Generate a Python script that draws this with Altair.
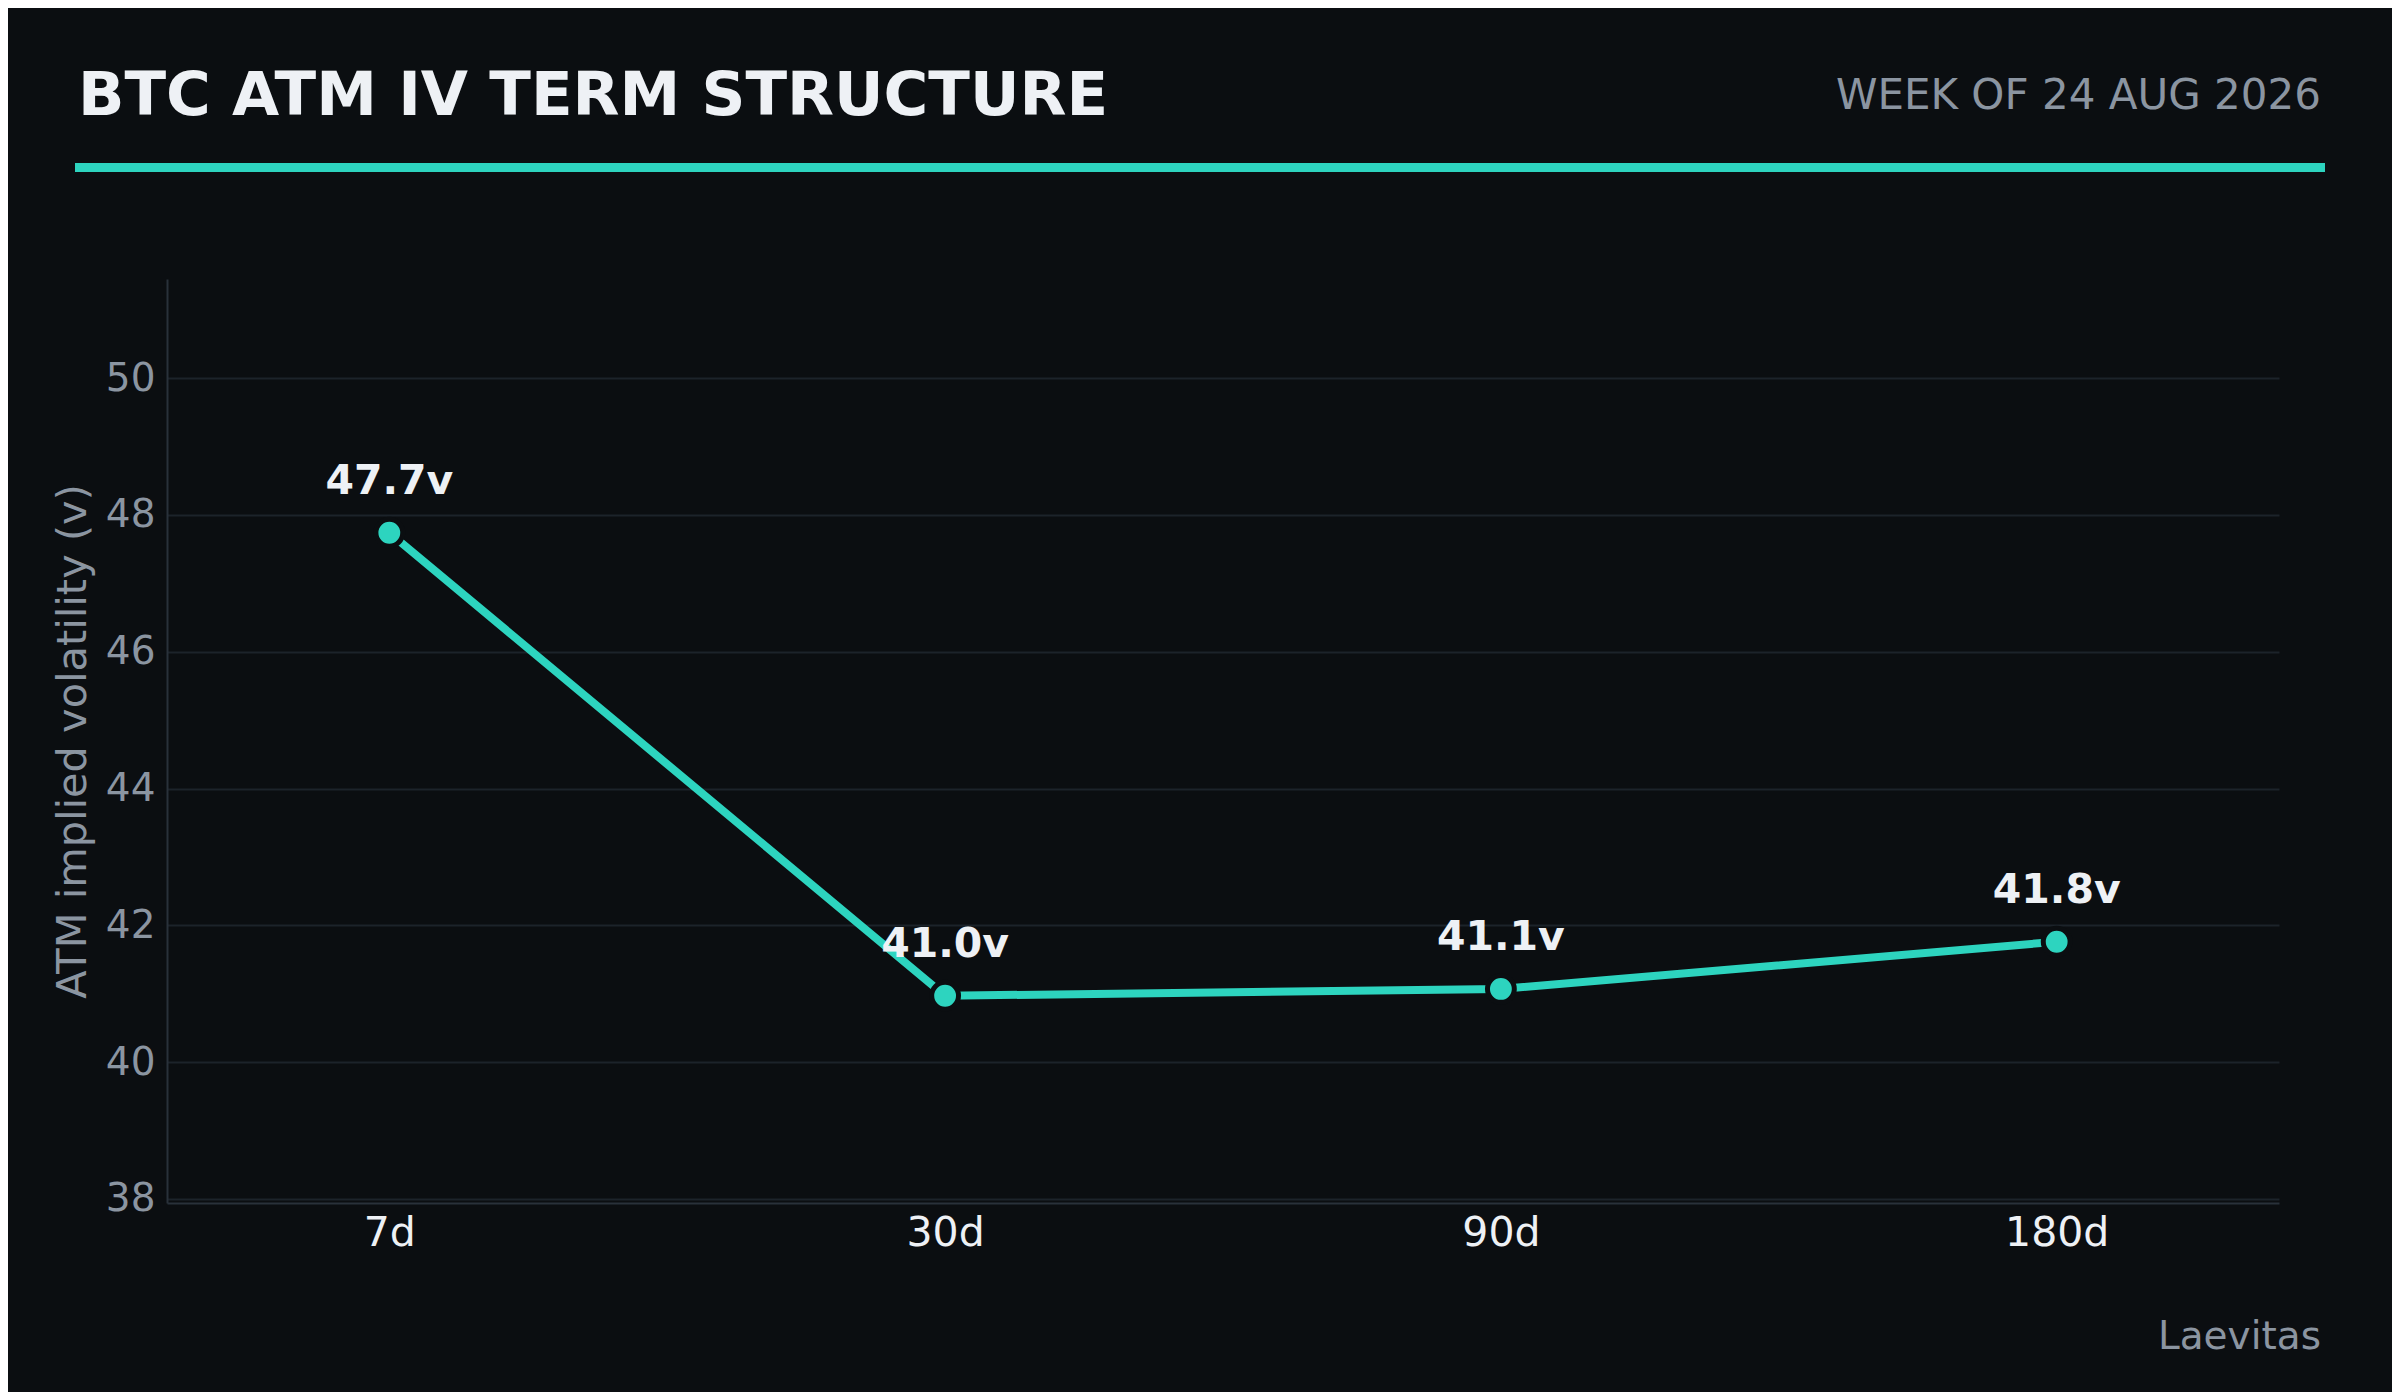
import altair as alt
import pandas as pd

# term structure values
horizons = ["7d", "30d", "90d", "180d"]
atm_iv = [47.74, 40.97, 41.07, 41.76]
y_ticks = [38, 40, 42, 44, 46, 48, 50]

title_text = "BTC ATM IV TERM STRUCTURE"
subtitle_text = "WEEK OF 24 AUG 2026"
source_text = "Laevitas"

BG = "#0b0e11"
TEAL = "#2dd4bf"
WHITE = "#eef1f5"
GRAY = "#8b95a1"
GRID = "#1c232a"
DOMAIN = "#29313a"
FONT = "DejaVu Sans"

df = pd.DataFrame({"horizon": horizons, "iv": atm_iv})
df["label"] = [f"{v:.1f}v" for v in atm_iv]
one = pd.DataFrame({"k": [0]})

x = alt.X(
    "horizon:N",
    sort=horizons,
    title=None,
    scale=alt.Scale(type="point", padding=0.4),
    axis=alt.Axis(
        labelAngle=0,
        labelColor=WHITE,
        labelFontSize=41,
        labelPadding=10,
        ticks=False,
        grid=False,
        domainColor=DOMAIN,
        domainWidth=2,
    ),
)
y = alt.Y(
    "iv:Q",
    title="ATM implied volatility (v)",
    scale=alt.Scale(domain=[37.94, 51.45], nice=False, zero=False),
    axis=alt.Axis(
        values=y_ticks,
        labelColor=GRAY,
        labelFontSize=39,
        labelPadding=12,
        ticks=False,
        grid=True,
        gridColor=GRID,
        gridWidth=2,
        domainColor=DOMAIN,
        domainWidth=2,
        titleColor=GRAY,
        titleFontSize=41.5,
        titleFontWeight="normal",
        titlePadding=11,
    ),
)

base = alt.Chart(df)
line = base.mark_line(color=TEAL, strokeWidth=8).encode(x=x, y=y)
points = base.mark_circle(
    size=720, color=TEAL, opacity=1, stroke=BG, strokeWidth=5
).encode(x=x, y=y)
labels = base.mark_text(
    dy=-39, baseline="alphabetic", fontSize=41, fontWeight="bold", color=WHITE, font=FONT
).encode(x=x, y=y, text="label:N")

header_rule = alt.Chart(one).mark_rule(color=TEAL, strokeWidth=9).encode(
    x=alt.value(-92), x2=alt.value(2158), y=alt.value(-111.5)
)
title = alt.Chart(one).mark_text(
    text=title_text, align="left", baseline="alphabetic",
    fontSize=61, fontWeight="bold", color=WHITE, font=FONT,
).encode(x=alt.value(-89), y=alt.value(-164))
subtitle = alt.Chart(one).mark_text(
    text=subtitle_text, align="right", baseline="alphabetic",
    fontSize=42, color=GRAY, font=FONT,
).encode(x=alt.value(2154), y=alt.value(-170))
source = alt.Chart(one).mark_text(
    text=source_text, align="right", baseline="alphabetic",
    fontSize=39, color=GRAY, font=FONT,
).encode(x=alt.value(2154), y=alt.value(1070))

chart = (
    alt.layer(line, points, labels, header_rule, title, subtitle, source)
    .properties(
        width=2112,
        height=924,
        background=BG,
        autosize=alt.AutoSizeParams(type="none"),
        padding={"left": 159, "top": 271, "right": 113, "bottom": 189},
    )
    .configure(font=FONT)
    .configure_view(strokeWidth=0)
)

chart.save("out.html", embed_options={"renderer": "svg", "actions": False})
